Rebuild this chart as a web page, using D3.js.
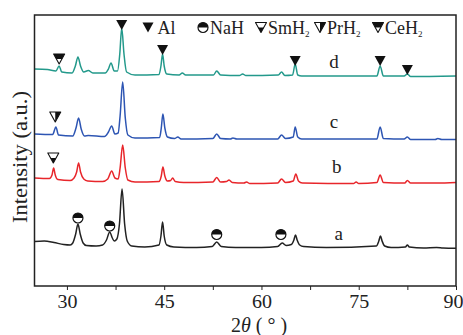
<!DOCTYPE html>
<html>
<head>
<meta charset="utf-8">
<script src="https://cdn.jsdelivr.net/npm/d3@7"></script>
<style>
  body { margin: 0; background: #fff; }
  text { font-family: "Liberation Serif", "Times New Roman", serif; fill: #222; }
</style>
</head>
<body>
<div id="chart"></div>
<script>
// XRD patterns, [2theta, intensity] (intensity already stacked, arbitrary units)
const curveA = [[25,44.5],[26.5,45],[28,43.5],[29.5,41.5],[30.5,41],[30.9,43],[31.35,52],[31.7,62],[32.05,52],[32.5,43],[33,40.5],[34.5,40],[35.5,41],[36.1,46],[36.6,54],[37,48],[37.3,45],[37.7,47],[38.1,62],[38.5,97],[38.9,62],[39.3,45],[40,40],[42,39],[44.2,41],[44.5,50],[44.75,64],[45,50],[45.4,41],[46.5,39],[50,38.5],[52.4,39.5],[53.1,44],[53.8,39.5],[56,38.5],[60,38.5],[62.5,39.5],[63.2,43],[63.8,40.5],[64.6,41.5],[65,46],[65.25,51],[65.5,46],[65.9,41],[66.5,39.5],[70,38.5],[77.7,40],[78.1,45],[78.35,50],[78.6,45],[79,40],[80,38.5],[82.2,39],[82.5,41],[82.8,39],[85,38],[87,38.5],[88,38],[90,37.7]];
const curveB = [[25,108],[27.3,107.5],[27.7,111],[27.95,118],[28.2,111],[28.6,106.5],[30.5,105.5],[31.1,108],[31.5,114],[31.8,123],[32.1,114],[32.6,107],[33.2,105],[35.5,104.5],[36.3,107],[36.9,115],[37.4,108],[37.9,107],[38.2,118],[38.6,141],[39,118],[39.4,106],[40.5,104],[44.2,104.5],[44.55,110],[44.8,119],[45.1,110],[45.5,105],[46,105.5],[46.3,108],[46.7,104.5],[48,103.5],[52.5,104],[53.1,108.5],[53.7,104],[54.6,104.5],[55,106],[55.5,103.5],[57.3,103],[57.7,104],[58.2,102.5],[62.5,103],[63.1,107],[63.7,103.5],[64.9,105],[65.3,112],[65.7,105],[66.3,103],[74.2,102.5],[74.6,104],[75,102.5],[77.8,103.5],[78.3,111],[78.8,103.5],[82.1,103],[82.5,105.5],[83,103],[87,103],[90,103.5]];
const curveC = [[25,152],[27.8,151.5],[28.3,159],[28.7,151],[30.9,150],[31.4,158],[31.8,168],[32.2,157],[32.7,150],[33.3,150.5],[35.8,149.5],[36.4,154],[36.9,160],[37.4,152],[37.9,153],[38.2,170],[38.6,204],[39,168],[39.4,151],[40.5,148],[44.3,148.5],[44.55,158],[44.8,172],[45.1,158],[45.5,149],[46.6,147.5],[47.1,149],[47.6,147],[52.5,147.5],[53.1,152],[53.7,147.5],[55.2,147],[55.6,148],[56.2,147],[62.5,147],[63.1,151],[63.7,147.5],[64.9,149],[65.2,159],[65.6,149],[66.2,147],[77.8,147],[78.3,159],[78.8,147.5],[82,147],[82.5,149],[83,146.5],[86.8,146.5],[87.2,147.5],[87.8,146.5],[90,146.5]];
const curveD = [[25,217],[27,216.5],[28.3,215],[28.8,220],[29.2,214],[30.8,213],[31.3,220],[31.7,229],[32.1,220],[32.6,214],[33.3,215.5],[34,213],[35.9,213],[36.4,217],[36.8,223],[37.3,215],[37.8,215],[38.15,232],[38.45,258],[38.8,232],[39.2,214],[40.5,211],[44.2,211.5],[44.5,220],[44.75,232],[45,220],[45.4,212],[47.3,211],[47.8,213],[48.3,211],[52.6,211],[53.1,215],[53.7,211],[56.6,210.5],[57.1,212],[57.6,210.5],[62.6,211],[63.1,214],[63.6,210.5],[64.8,211],[65.2,222],[65.6,211],[66.2,210],[77.8,210],[78.3,220],[78.8,210],[82,210],[82.5,212],[83,209.5],[90,210]];

const sampleNames = ["a", "b", "c", "d"];
const sampleColors = ["#222222", "#e8262b", "#2d55b3", "#23998b"];
const sampleLabelPos = [[71.9, 46], [71.6, 113], [71.2, 158], [71.2, 218]];

// phase markers: [2theta, intensity at marker tip / centre]
const alPeaks = [[38.45, 256], [44.75, 231], [65.2, 220], [78.3, 220], [82.5, 211]];
const nahPeaks = [[31.7, 68], [36.6, 60], [53.1, 51.5], [63.0, 51.5]];
const smPeaks = [[27.9, 123]];
const prPeaks = [[28.2, 164]];
const cePeaks = [[28.8, 222]];

const legendNames = ["Al", "NaH", "SmH", "PrH", "CeH"];
const legendSub = ["", "", "2", "2", "2"];
const legendKinds = ["al", "nah", "sm", "pr", "ce"];

const xMajor = [30, 45, 60, 75, 90];
const xMinor = [37.5, 52.5, 67.5, 82.5];

const width = 463, height = 335;
const margin = { top: 15, right: 7, bottom: 49, left: 34.5 };

const svg = d3.select("#chart").append("svg")
  .attr("width", width)
  .attr("height", height);

const x = d3.scaleLinear().domain([25, 90]).range([margin.left, width - margin.right]);
const y = d3.scaleLinear().domain([0, 271]).range([height - margin.bottom, margin.top]);

svg.append("defs").append("clipPath").attr("id", "plot-clip")
  .append("rect")
    .attr("x", margin.left).attr("y", margin.top)
    .attr("width", width - margin.left - margin.right)
    .attr("height", height - margin.top - margin.bottom);

const line = d3.line()
  .x(d => x(d[0]))
  .y(d => y(d[1]))
  .curve(d3.curveMonotoneX);

const curves = [curveA, curveB, curveC, curveD];
svg.append("g").attr("clip-path", "url(#plot-clip)")
  .selectAll("path")
  .data(curves)
  .join("path")
    .attr("d", line)
    .attr("fill", "none")
    .attr("stroke", (d, i) => sampleColors[i])
    .attr("stroke-width", 1.5)
    .attr("stroke-linejoin", "round");

// sample labels
svg.append("g").selectAll("text")
  .data(sampleNames)
  .join("text")
    .attr("x", (d, i) => x(sampleLabelPos[i][0]))
    .attr("y", (d, i) => y(sampleLabelPos[i][1]))
    .attr("text-anchor", "middle")
    .style("font-size", "19px")
    .text(d => d);

// marker shapes
const tw = 11, th = 10;
function drawMarker(g, kind) {
  const tri = `M${-tw/2},${-th}L${tw/2},${-th}L0,0Z`;
  if (kind === "al") {
    g.append("path").attr("d", tri).attr("fill", "#111");
  } else if (kind === "nah") {
    g.append("circle").attr("r", 5).attr("fill", "#fff").attr("stroke", "#111").attr("stroke-width", 1.2);
    g.append("path").attr("d", "M-5,0A5,5 0 0,1 5,0Z").attr("fill", "#111");
  } else {
    g.append("path").attr("d", tri).attr("fill", "#fff").attr("stroke", "#111").attr("stroke-width", 1.1).attr("stroke-linejoin", "round");
    let half;
    if (kind === "ce") half = `M${-tw/2},${-th}L${tw/2},${-th}L${tw/4},${-th/2}L${-tw/4},${-th/2}Z`;
    if (kind === "pr") half = `M0,${-th}L${tw/2},${-th}L0,0Z`;
    if (kind === "sm") half = `M${-tw/4},${-th/2}L${tw/4},${-th/2}L0,0Z`;
    g.append("path").attr("d", half).attr("fill", "#111");
  }
}

const markerSets = [["al", alPeaks], ["nah", nahPeaks], ["sm", smPeaks], ["pr", prPeaks], ["ce", cePeaks]];
markerSets.forEach(([kind, pts]) => {
  pts.forEach(p => {
    const g = svg.append("g").attr("transform", `translate(${x(p[0])},${y(p[1])})`);
    drawMarker(g, kind);
  });
});

// legend
const legendMarkX = [148, 203, 261, 320, 378];
const legendY = 33.5;
const legend = svg.append("g");
legendNames.forEach((name, i) => {
  const kind = legendKinds[i];
  const mg = legend.append("g")
    .attr("transform", kind === "nah"
      ? `translate(${legendMarkX[i]},${legendY - 6})`
      : `translate(${legendMarkX[i]},${legendY - 1})`);
  drawMarker(mg, kind);
  const t = legend.append("text")
    .attr("x", legendMarkX[i] + (kind === "al" ? 9.5 : 7))
    .attr("y", legendY)
    .style("font-size", "18px")
    .text(name);
  if (legendSub[i]) {
    t.append("tspan").attr("dy", 3).style("font-size", "9px").text(legendSub[i]);
  }
});

// axes
const xAxis = svg.append("g")
  .attr("transform", `translate(0,${height - margin.bottom})`)
  .call(d3.axisBottom(x).tickValues(xMajor).tickSize(4).tickPadding(5));
xAxis.select(".domain").remove();
xAxis.selectAll("text")
  .style("font-size", "19px")
  .style("font-family", "'Liberation Serif', serif")
  .attr("fill", "#222")
  .attr("textLength", 20)
  .attr("lengthAdjust", "spacingAndGlyphs");
// last label sits on the right edge, nudge it inside the page
xAxis.selectAll("text").filter(d => d === 90).attr("dx", -3);
xAxis.selectAll("line").attr("stroke", "#222");

const xMinorAxis = svg.append("g")
  .attr("transform", `translate(0,${height - margin.bottom})`)
  .call(d3.axisBottom(x).tickValues(xMinor).tickSize(4).tickFormat(""));
xMinorAxis.select(".domain").remove();
xMinorAxis.selectAll("line").attr("stroke", "#222");

// frame
svg.append("rect")
  .attr("x", margin.left)
  .attr("y", margin.top)
  .attr("width", width - margin.left - margin.right)
  .attr("height", height - margin.top - margin.bottom)
  .attr("fill", "none")
  .attr("stroke", "#222")
  .attr("stroke-width", 1.5);

// axis titles
const xTitle = svg.append("text")
  .attr("x", 259)
  .attr("y", 332)
  .attr("text-anchor", "middle")
  .style("font-size", "20px");
xTitle.append("tspan").text("2");
xTitle.append("tspan").style("font-style", "italic").text("θ");
xTitle.append("tspan").text(" ( ° )");

svg.append("text")
  .attr("transform", "translate(27,157) rotate(-90)")
  .attr("text-anchor", "middle")
  .style("font-size", "20px")
  .attr("textLength", 132)
  .attr("lengthAdjust", "spacingAndGlyphs")
  .text("Intensity (a.u.)");
</script>
</body>
</html>
